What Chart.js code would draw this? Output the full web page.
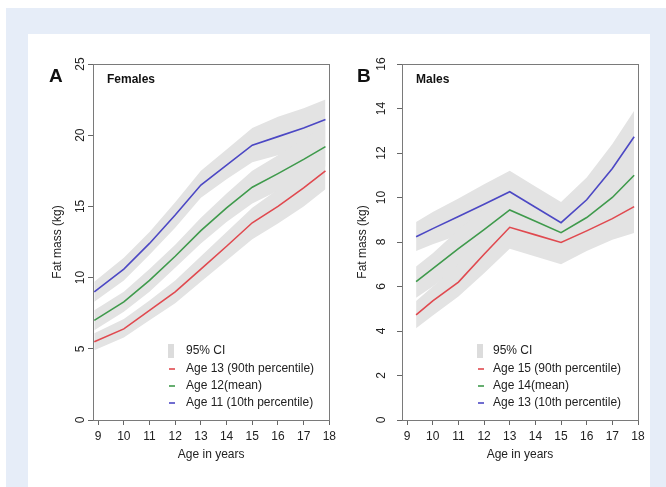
<!DOCTYPE html>
<html>
<head>
<meta charset="utf-8">
<script src="https://cdn.jsdelivr.net/npm/chart.js@4.4.1/dist/chart.umd.min.js"></script>
<style>
  html, body { margin: 0; padding: 0; background: #fff; width: 666px; height: 487px; overflow: hidden; }
  #frame { position: absolute; left: 6px; top: 8px; width: 660px; height: 479px; background: #e6edf8; }
  #panel { position: absolute; left: 28px; top: 34px; width: 622px; height: 453px; background: #fff; }
  canvas { position: absolute; }
  #chartA { left: 28px; top: 34px; width: 312px; height: 453px; }
  #chartB { left: 340px; top: 34px; width: 310px; height: 453px; }
</style>
</head>
<body>
<div id="frame"></div>
<div id="panel"></div>
<canvas id="chartA" width="312" height="453"></canvas>
<canvas id="chartB" width="310" height="453"></canvas>
<script>
/* ==========================
   Data
   ========================== */
const FONT = '"Liberation Sans", Arial, sans-serif';
const xTicks = [9, 10, 11, 12, 13, 14, 15, 16, 17, 18];
const xTitle = 'Age in years';
const yTitle = 'Fat mass (kg)';

// Panel A - Females
const femaleAges = [8.85, 10, 11, 12, 13, 14, 15, 16, 17, 17.85];
const femaleYTicks = [0, 5, 10, 15, 20, 25];
const femaleLabels = ['95% CI', 'Age 13 (90th percentile)', 'Age 12(mean)', 'Age 11 (10th percentile)'];
const femaleRed   = [5.5, 6.4, 7.7, 9.0, 10.6, 12.2, 13.85, 15.0, 16.3, 17.5];
const femaleGreen = [7.0, 8.3, 9.8, 11.5, 13.3, 14.9, 16.35, 17.3, 18.3, 19.2];
const femaleBlue  = [9.0, 10.6, 12.4, 14.4, 16.5, 17.9, 19.3, 19.9, 20.5, 21.1];
const femaleRedLo   = [4.9, 5.8, 7.0, 8.2, 9.7, 11.2, 12.7, 13.8, 15.0, 16.2];
const femaleRedHi   = [6.1, 7.1, 8.4, 9.8, 11.5, 13.2, 14.9, 16.2, 17.6, 19.0];
const femaleGreenLo = [6.3, 7.6, 9.0, 10.7, 12.4, 13.9, 15.2, 16.1, 17.0, 17.8];
const femaleGreenHi = [7.7, 9.0, 10.6, 12.3, 14.2, 15.9, 17.5, 18.6, 19.7, 20.7];
const femaleBlueLo  = [8.3, 9.8, 11.6, 13.5, 15.6, 16.9, 18.1, 18.6, 19.0, 19.5];
const femaleBlueHi  = [9.7, 11.4, 13.2, 15.3, 17.5, 19.0, 20.5, 21.3, 21.9, 22.5];

// Panel B - Males
const maleAges = [9.35, 10, 11, 12, 13, 14, 15, 16, 17, 17.85];
const maleYTicks = [0, 2, 4, 6, 8, 10, 12, 14, 16];
const maleLabels = ['95% CI', 'Age 15 (90th percentile)', 'Age 14(mean)', 'Age 13 (10th percentile)'];
const maleRed   = [4.72, 5.35, 6.2, 7.45, 8.66, 8.32, 7.98, 8.5, 9.05, 9.59];
const maleGreen = [6.22, 6.8, 7.7, 8.56, 9.44, 8.93, 8.42, 9.1, 10.0, 11.0];
const maleBlue  = [8.24, 8.6, 9.15, 9.7, 10.26, 9.56, 8.87, 9.9, 11.3, 12.73];
const maleRedLo   = [4.12, 4.7, 5.55, 6.6, 7.7, 7.35, 7.0, 7.6, 8.1, 8.4];
const maleRedHi   = [5.35, 6.0, 7.0, 8.25, 9.55, 9.25, 8.95, 9.4, 10.0, 10.8];
const maleGreenLo = [5.5, 6.0, 6.9, 7.6, 8.3, 7.85, 7.4, 8.0, 8.8, 9.6];
const maleGreenHi = [6.9, 7.5, 8.55, 9.5, 10.4, 9.85, 9.3, 10.1, 11.1, 12.2];
const maleBlueLo  = [7.6, 7.9, 8.3, 8.7, 9.1, 8.5, 7.9, 8.8, 9.9, 11.3];
const maleBlueHi  = [8.9, 9.35, 9.95, 10.6, 11.2, 10.5, 9.8, 10.9, 12.4, 13.9];

const colors = { red: '#e0494f', green: '#3f9a4c', blue: '#4c48c4', band: '#e3e3e3' };

/* ==========================
   Helpers
   ========================== */
function pts(ages, vals) {
  return ages.map((a, i) => ({ x: a, y: vals[i] }));
}

function buildDatasets(ages, lines, bands) {
  const ds = [];
  lines.forEach(l => {
    ds.push({ data: pts(ages, l.values), borderColor: l.color, borderWidth: 1.6,
      pointRadius: 0, fill: false, tension: 0, order: 0 });
  });
  bands.forEach(b => {
    ds.push({ data: pts(ages, b.lo), borderWidth: 0, pointRadius: 0, fill: false, order: 1 });
    ds.push({ data: pts(ages, b.hi), borderWidth: 0, pointRadius: 0, fill: '-1',
      backgroundColor: colors.band, order: 1 });
  });
  return ds;
}

// Decorations drawn the R way: frame, rotated y labels, titles, legend inside the box
const panelDeco = {
  id: 'panelDeco',
  afterDraw(chart, args, o) {
    const { ctx, chartArea: a, scales } = chart;
    ctx.save();
    ctx.strokeStyle = '#7a7a7a';
    ctx.lineWidth = 1;
    ctx.strokeRect(Math.round(a.left) + 0.5, Math.round(a.top) + 0.5,
      Math.round(a.right - a.left), Math.round(a.bottom - a.top));

    ctx.fillStyle = '#222';
    ctx.font = '12px ' + FONT;
    ctx.textAlign = 'center';
    ctx.textBaseline = 'middle';
    o.yTicks.forEach(v => {
      const y = scales.y.getPixelForValue(v);
      ctx.save();
      ctx.translate(o.yLabelX, y);
      ctx.rotate(-Math.PI / 2);
      ctx.fillText(String(v), 0, 0);
      ctx.restore();
    });

    ctx.save();
    ctx.translate(o.yTitleX, (a.top + a.bottom) / 2);
    ctx.rotate(-Math.PI / 2);
    ctx.fillText(yTitle, 0, 0);
    ctx.restore();

    ctx.fillText(xTitle, (a.left + a.right) / 2, o.xTitleY);

    ctx.textAlign = 'left';
    ctx.textBaseline = 'alphabetic';
    ctx.fillStyle = '#111';
    ctx.font = 'bold 19px ' + FONT;
    ctx.fillText(o.letter, o.letterX, 48);
    ctx.font = 'bold 12px ' + FONT;
    ctx.fillText(o.group, a.left + 14, a.top + 19);

    // legend
    const rowY = [a.bottom - 69, a.bottom - 51, a.bottom - 34, a.bottom - 17];
    const lx = a.left + o.legendX;
    ctx.font = '12px ' + FONT;
    ctx.textBaseline = 'middle';
    ctx.fillStyle = '#dcdcdc';
    ctx.fillRect(lx, rowY[0] - 7, 6, 14);
    [colors.red, colors.green, colors.blue].forEach((c, i) => {
      ctx.strokeStyle = c;
      ctx.lineWidth = 1.6;
      ctx.beginPath();
      ctx.moveTo(lx + 1, rowY[i + 1]);
      ctx.lineTo(lx + 7, rowY[i + 1]);
      ctx.stroke();
    });
    ctx.fillStyle = '#222';
    o.labels.forEach((t, i) => ctx.fillText(t, lx + o.textDx, rowY[i]));
    ctx.restore();
  }
};

function makeChart(id, cfg) {
  const ctx = document.getElementById(id);
  return new Chart(ctx, {
    type: 'line',
    data: { datasets: buildDatasets(cfg.ages, cfg.lines, cfg.bands) },
    plugins: [panelDeco],
    options: {
      responsive: false,
      animation: false,
      layout: { padding: { top: 30, right: cfg.padRight, left: 0, bottom: 0 } },
      plugins: {
        legend: { display: false },
        tooltip: { enabled: false },
        panelDeco: cfg.deco
      },
      scales: {
        x: {
          type: 'linear', min: 8.8, max: 18,
          afterBuildTicks: s => { s.ticks = xTicks.map(v => ({ value: v })); },
          afterFit: s => { s.height = 67; },
          grid: { drawOnChartArea: false, drawTicks: true, tickLength: 5, color: '#666' },
          border: { display: false },
          ticks: { color: '#222', padding: 4, maxRotation: 0, font: { family: FONT, size: 12 } }
        },
        y: {
          type: 'linear', min: 0, max: cfg.yMax,
          afterBuildTicks: s => { s.ticks = cfg.deco.yTicks.map(v => ({ value: v })); },
          afterFit: s => { s.width = cfg.yWidth; },
          grid: { drawOnChartArea: false, drawTicks: true, tickLength: 5, color: '#666' },
          border: { display: false },
          ticks: { display: false }
        }
      }
    }
  });
}

/* ==========================
   Init
   ========================== */
makeChart('chartA', {
  ages: femaleAges, yMax: 25, yWidth: 65, padRight: 8,
  lines: [
    { values: femaleRed, color: colors.red },
    { values: femaleGreen, color: colors.green },
    { values: femaleBlue, color: colors.blue }
  ],
  bands: [
    { lo: femaleRedLo, hi: femaleRedHi },
    { lo: femaleGreenLo, hi: femaleGreenHi },
    { lo: femaleBlueLo, hi: femaleBlueHi }
  ],
  deco: { letter: 'A', letterX: 21, group: 'Females', yTicks: femaleYTicks, yLabelX: 53,
    yTitleX: 30, xTitleY: 421, legendX: 75, textDx: 18, labels: femaleLabels }
});

makeChart('chartB', {
  ages: maleAges, yMax: 16, yWidth: 62, padRight: 12,
  lines: [
    { values: maleRed, color: colors.red },
    { values: maleGreen, color: colors.green },
    { values: maleBlue, color: colors.blue }
  ],
  bands: [
    { lo: maleRedLo, hi: maleRedHi },
    { lo: maleGreenLo, hi: maleGreenHi },
    { lo: maleBlueLo, hi: maleBlueHi }
  ],
  deco: { letter: 'B', letterX: 17, group: 'Males', yTicks: maleYTicks, yLabelX: 42,
    yTitleX: 23, xTitleY: 421, legendX: 75, textDx: 16, labels: maleLabels }
});
</script>
</body>
</html>
